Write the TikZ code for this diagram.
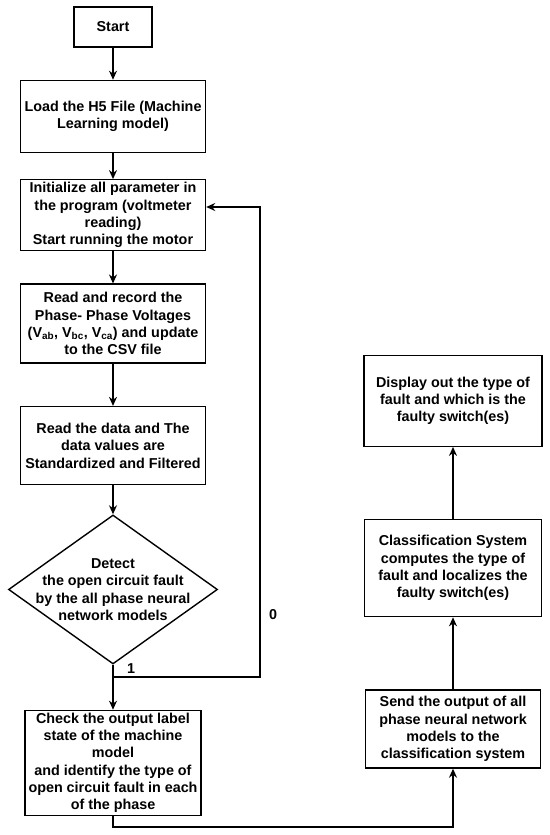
\documentclass[tikz,border=0pt]{standalone}
\usepackage{fontspec}
\setmainfont{Liberation Sans}
\usetikzlibrary{shapes.geometric,arrows.meta,positioning}
\newcommand\flowfont{\fontsize{14.4}{17.4}\selectfont\bfseries}
\tikzset{box/.style={draw, line width=1.4pt, rectangle, align=center, inner sep=1bp, minimum width=185bp, font=\flowfont},
  decision/.style={draw, line width=1.4pt, diamond, aspect=1.4, inner sep=-14bp, minimum width=209bp, minimum height=149bp, align=center, font=\flowfont},
  flow/.style={line width=1.4pt, -{Stealth[length=9bp,width=8bp]}},
  tag/.style={font=\flowfont, inner sep=1bp}}

\begin{document}
\begin{tikzpicture}[x=1bp,y=-1bp]
    \useasboundingbox (0,0) rectangle (550,835);
    % left column
    \node[box, minimum width=78bp, minimum height=40bp] (start) at (113,27) {Start};
    \node[box, minimum height=72bp, below=32bp of start] (load) {Load the H5 File (Machine\\Learning model)};
    \node[box, minimum height=71bp, below=26bp of load] (init) {Initialize all parameter in\\the program (voltmeter\\reading)\\Start running the motor};
    \node[box, minimum height=79bp, below=32bp of init] (record) {Read and record the\\Phase- Phase Voltages\\(V\textsubscript{ab}, V\textsubscript{bc}, V\textsubscript{ca}) and update\\to the CSV file};
    \node[box, minimum height=78bp, below=42bp of record] (filter) {Read the data and The\\data values are\\Standardized and Filtered};
    \node[decision, below=29bp of filter] (detect) {Detect\\the open circuit fault\\by the all phase neural\\network models};
    \node[box, minimum width=176bp, minimum height=105bp, inner sep=0bp, below=45bp of detect] (check) {Check the output label\\state of the machine\\model\\and identify the type of\\open circuit fault in each\\of the phase};
    % right column
    \node[box, minimum width=175bp, minimum height=78bp] (send) at (453,729) {Send the output of all\\phase neural network\\models to the\\classification system};
    \node[box, minimum width=177bp, minimum height=97bp, above=72bp of send] (classify) {Classification System\\computes the type of\\fault and localizes the\\faulty switch(es)};
    \node[box, minimum width=178bp, minimum height=91bp, above=72bp of classify] (display) {Display out the type of\\fault and which is the\\faulty switch(es)};
    % connectors
    \draw[flow] (start) -- (load);
    \draw[flow] (load) -- (init);
    \draw[flow] (init) -- (record);
    \draw[flow] (record) -- (filter);
    \draw[flow] (filter) -- (detect);
    \draw[flow] (detect) -- (check);
    \coordinate (split) at (detect.south |- 0,677);
    \coordinate (back) at (260,207);
    \draw[flow] (split) -| (back) -- (back -| init.east);
    \coordinate (low) at (check.south |- 0,827);
    \draw[flow] (check.south) -- (low) -| (send.south);
    \draw[flow] (send) -- (classify);
    \draw[flow] (classify) -- (display);
    % branch labels
    \node[tag] (one) at (131,669) {1};
    \node[tag] (zero) at (273,615) {0};
\end{tikzpicture}
\end{document}
